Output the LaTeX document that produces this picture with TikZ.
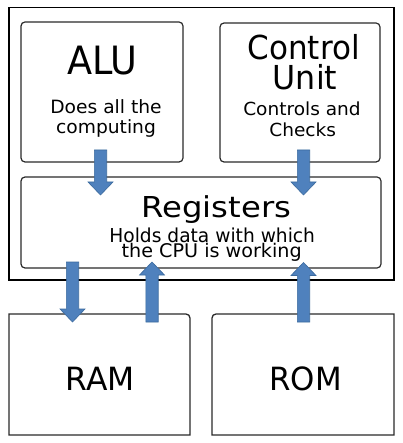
\documentclass[tikz,border=0pt]{standalone}
\usepackage{fontspec}
\usepackage{graphicx}
\setmainfont{DejaVu Sans}
\definecolor{arrfill}{HTML}{4F81BD}
\definecolor{arrline}{HTML}{3B6A9E}
\definecolor{boxline}{HTML}{2A2A2A}
\newcommand\tx[3]{{\fontsize{#1}{#1}\selectfont\scalebox{#2}[1]{#3}}}
\tikzset{
  box/.style={draw=boxline, line width=1.2pt, rounded corners=4pt, inner sep=0pt},
  frame/.style={draw=boxline, line width=1.3pt},
  lbl/.style={anchor=base, inner sep=0pt, text=black},
  blk/.style={fill=arrfill, draw=arrline, line width=0.6pt, line join=miter},
}
\newcommand\blkdn[3]{\filldraw[blk] (#1-6.2,#2) -- (#1+6.2,#2) -- (#1+6.2,#3-13) -- (#1+12.5,#3-13) -- (#1,#3) -- (#1-12.5,#3-13) -- (#1-6.2,#3-13) -- cycle;}
\newcommand\blkup[3]{\filldraw[blk] (#1-6.2,#2) -- (#1+6.2,#2) -- (#1+6.2,#3+13) -- (#1+12.5,#3+13) -- (#1,#3) -- (#1-12.5,#3+13) -- (#1-6.2,#3+13) -- cycle;}
\begin{document}
\begin{tikzpicture}[x=1pt,y=-1pt]
\fill[white] (0,0) rectangle (402,443);
\useasboundingbox (0,0) rectangle (402,443);
% CPU frame
\node[draw=black, line width=1.3pt, minimum width=385pt, minimum height=272.5pt, inner sep=0pt] (cpu) at (201.5,143.75) {};
% inner boxes
\node[box, minimum width=162pt, minimum height=140pt] (alu) at (102,92) {};
\node[box, minimum width=160pt, minimum height=139pt] (cu) at (300,92.5) {};
\node[box, minimum width=360pt, minimum height=91pt] (reg) at (201,222.5) {};
% memory boxes
\node[inner sep=0pt, minimum width=181pt, minimum height=121pt] (ram) at (99.5,374.5) {};
\node[inner sep=0pt, minimum width=182pt, minimum height=121pt] (rom) at (303,374.5) {};
\draw[frame] (9,435) -- (9,314) -- (186,314) arc[start angle=-90, end angle=0, radius=4] -- (190,435) -- cycle;
\draw[frame] (394,435) -- (394,314) -- (216,314) arc[start angle=-90, end angle=-180, radius=4] -- (212,435) -- cycle;
% texts
\node[lbl] (alut) at (102.5,75) {\tx{39}{0.94}{ALU}};
\node[lbl] (alud1) at (106,113.3) {\tx{18.3}{1.02}{Does all the}};
\node[lbl] (alud2) at (106,133.3) {\tx{18.3}{1.02}{computing}};
\node[lbl] (cut1) at (303.7,60) {\tx{33}{0.94}{Control}};
\node[lbl] (cut2) at (305,90) {\tx{33}{0.96}{Unit}};
\node[lbl] (cud1) at (302,115.7) {\tx{18}{1.03}{Controls and}};
\node[lbl] (cud2) at (302.7,136.7) {\tx{18}{1.03}{Checks}};
\node[lbl] (regt) at (216.3,217.5) {\tx{28.8}{1.12}{Registers}};
\node[lbl] (regd1) at (212.2,242) {\tx{19.2}{0.97}{Holds data with which}};
\node[lbl] (regd2) at (211.7,257) {\tx{18.8}{1.02}{the CPU is working}};
\node[lbl] (ramt) at (100,390) {\tx{32}{0.98}{RAM}};
\node[lbl] (romt) at (305.5,390) {\tx{32}{0.965}{ROM}};
% block arrows
\blkdn{100.5}{150}{195}
\blkdn{303.5}{150}{195}
\blkdn{72.5}{262}{322}
\blkup{152}{322}{262}
\blkup{303.5}{322}{262.5}
\end{tikzpicture}
\end{document}
